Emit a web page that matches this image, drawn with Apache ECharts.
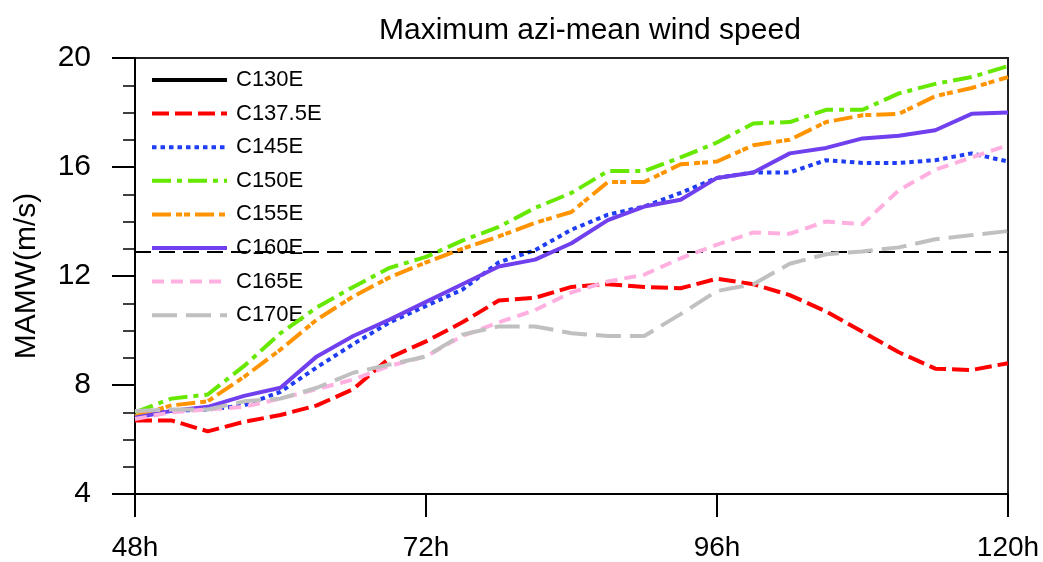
<!DOCTYPE html>
<html>
<head>
<meta charset="utf-8">
<script src="https://cdn.jsdelivr.net/npm/echarts@6/dist/echarts.min.js"></script>
<style>
  html, body { margin: 0; padding: 0; background: #fff; }
  #chart { width: 1043px; height: 562px; }
</style>
</head>
<body>
<div id="chart"></div>
<script>
// forecast hour of each sample (3-hourly)
const hours = [48, 51, 54, 57, 60, 63, 66, 69, 72, 75, 78, 81, 84, 87, 90, 93, 96, 99, 102, 105, 108, 111, 114, 117, 120];

const c130e = [];
const c1375e = [6.7, 6.7, 6.3, 6.65, 6.9, 7.25, 7.85, 9.0, 9.6, 10.3, 11.1, 11.2, 11.6, 11.7, 11.6, 11.55, 11.9, 11.7, 11.3, 10.7, 9.95, 9.2, 8.6, 8.55, 8.8];
const c145e = [6.85, 7.05, 7.1, 7.25, 7.75, 8.65, 9.5, 10.3, 10.9, 11.5, 12.5, 12.95, 13.7, 14.25, 14.55, 15.05, 15.6, 15.8, 15.8, 16.25, 16.15, 16.15, 16.25, 16.5, 16.2];
const c150e = [7.0, 7.5, 7.65, 8.7, 9.9, 10.85, 11.6, 12.3, 12.7, 13.3, 13.8, 14.5, 15.05, 15.85, 15.85, 16.35, 16.9, 17.6, 17.65, 18.1, 18.1, 18.7, 19.05, 19.3, 19.7];
const c155e = [6.85, 7.25, 7.4, 8.3, 9.3, 10.4, 11.25, 11.95, 12.5, 13.0, 13.45, 13.95, 14.35, 15.45, 15.45, 16.1, 16.2, 16.8, 17.0, 17.65, 17.9, 17.95, 18.6, 18.9, 19.3];
const c160e = [6.8, 7.05, 7.2, 7.6, 7.9, 9.05, 9.8, 10.4, 11.05, 11.7, 12.35, 12.6, 13.2, 14.05, 14.55, 14.8, 15.6, 15.8, 16.5, 16.7, 17.05, 17.15, 17.35, 17.95, 18.0];
const c165e = [6.75, 7.0, 7.1, 7.2, 7.5, 7.85, 8.2, 8.7, 9.05, 9.8, 10.3, 10.75, 11.4, 11.8, 12.05, 12.65, 13.15, 13.6, 13.55, 14.0, 13.9, 15.15, 15.9, 16.35, 16.8];
const c170e = [7.05, 7.1, 7.1, 7.4, 7.5, 7.9, 8.45, 8.75, 9.05, 9.85, 10.15, 10.15, 9.9, 9.8, 9.8, 10.6, 11.45, 11.7, 12.45, 12.8, 12.9, 13.05, 13.35, 13.5, 13.65];

// threshold line
const refLevel = 12.9;

const FONT = 'Liberation Sans, Arial, Helvetica, sans-serif';

const lines = [
  { name: 'C130E',   values: c130e,  color: '#000000', type: 'solid' },
  { name: 'C137.5E', values: c1375e, color: '#ff0000', type: [17, 6] },
  { name: 'C145E',   values: c145e,  color: '#1f3df5', type: [4.5, 4] },
  { name: 'C150E',   values: c150e,  color: '#66e800', type: [19, 6, 5, 6] },
  { name: 'C155E',   values: c155e,  color: '#ff9400', type: [19, 5, 6, 2, 6, 5] },
  { name: 'C160E',   values: c160e,  color: '#7040ee', type: 'solid' },
  { name: 'C165E',   values: c165e,  color: '#ffb0e0', type: [12, 7] },
  { name: 'C170E',   values: c170e,  color: '#c0c0c0', type: [25, 9] }
];

const chart = echarts.init(document.getElementById('chart'));

const series = lines.map((l, i) => ({
  name: l.name,
  type: 'line',
  symbol: 'none',
  showSymbol: false,
  data: l.values.map((v, k) => [hours[k], v]),
  lineStyle: { color: l.color, width: 4, type: l.type },
  itemStyle: { color: l.color },
  z: 2 + i,
  animation: false
}));

// dashed reference line
series.push({
  name: 'ref',
  type: 'line',
  data: [],
  markLine: {
    silent: true,
    symbol: 'none',
    label: { show: false },
    lineStyle: { color: '#000', width: 2, type: [16, 8] },
    data: [{ yAxis: refLevel }]
  },
  z: 20,
  animation: false
});

const option = {
  backgroundColor: '#fff',
  animation: false,
  title: {
    text: 'Maximum azi-mean wind speed',
    left: 374,
    top: 11,
    textStyle: { fontFamily: FONT, fontSize: 30, fontWeight: 'normal', color: '#000' }
  },
  legend: {
    data: lines.map(l => l.name),
    orient: 'vertical',
    left: 145,
    top: 64,
    itemWidth: 75,
    itemHeight: 14,
    itemGap: 11.6,
    selectedMode: false,
    itemStyle: { opacity: 0 },
    lineStyle: { width: 4 },
    textStyle: { fontFamily: FONT, fontSize: 22, lineHeight: 22, color: '#000', padding: [0, 0, 0, 4] }
  },
  grid: { left: 135, right: 35, top: 58, bottom: 67, show: true, borderColor: '#222', borderWidth: 2 },
  xAxis: {
    type: 'value',
    min: 48,
    max: 120,
    interval: 24,
    axisLine: { lineStyle: { color: '#000', width: 2 } },
    axisTick: { inside: false, length: 23, lineStyle: { color: '#000', width: 2 } },
    splitLine: { show: false },
    axisLabel: { formatter: '{value}h', margin: 40, fontFamily: FONT, fontSize: 28, color: '#000' }
  },
  yAxis: {
    type: 'value',
    min: 4,
    max: 20,
    interval: 4,
    name: 'MAMW(m/s)',
    nameLocation: 'middle',
    nameGap: 93,
    nameTextStyle: { fontFamily: FONT, fontSize: 30, color: '#000' },
    axisLine: { show: true, lineStyle: { color: '#000', width: 2 } },
    axisTick: { show: true, inside: false, length: 23, lineStyle: { color: '#000', width: 2 } },
    minorTick: { show: true, splitNumber: 4, length: 12, lineStyle: { color: '#000', width: 1.5 } },
    splitLine: { show: false },
    axisLabel: { margin: 44, fontFamily: FONT, fontSize: 30, color: '#000' }
  },
  series: series
};

chart.setOption(option);
</script>
</body>
</html>
